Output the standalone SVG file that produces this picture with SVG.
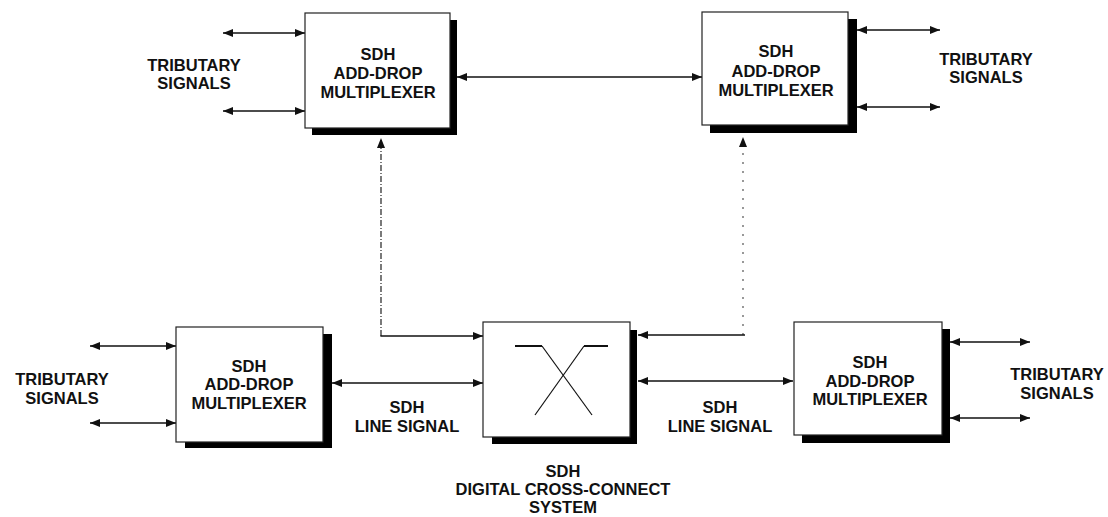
<svg xmlns="http://www.w3.org/2000/svg" width="1108" height="517" viewBox="0 0 1108 517">
<style>
  .box { fill: #ffffff; stroke: #222222; stroke-width: 1.2; }
  .shadow { fill: #000000; }
  .t { font-family: "Liberation Sans", Arial, sans-serif; font-size: 16.5px; font-weight: bold; fill: #111111; text-anchor: middle; }
  .lbl { font-family: "Liberation Sans", Arial, sans-serif; font-size: 16.5px; font-weight: bold; fill: #111111; text-anchor: middle; }
  .conn { stroke: #111111; stroke-width: 1.5; fill: none; }
  .dashA { stroke: #222222; stroke-width: 1.2; fill: none; stroke-dasharray: 6 2 1 2; }
  .dashB { stroke: #555555; stroke-width: 1.2; fill: none; stroke-dasharray: 2 7; }
  .xline { stroke: #111111; stroke-width: 1.2; fill: none; }
  .xbar { stroke: #111111; stroke-width: 2; fill: none; }
</style>
<defs>
  <marker id="ah" markerUnits="userSpaceOnUse" markerWidth="10" markerHeight="8" refX="10" refY="4" orient="auto-start-reverse">
    <path d="M0,0 L10,4 L0,8 Z" fill="#111111"/>
  </marker>
</defs>
<rect width="1108" height="517" fill="#ffffff"/>

<g id="connectors">
  <line class="conn" x1="223" y1="33" x2="305" y2="33" marker-start="url(#ah)" marker-end="url(#ah)"/>
  <line class="conn" x1="223" y1="111" x2="305" y2="111" marker-start="url(#ah)" marker-end="url(#ah)"/>
  <line class="conn" x1="457" y1="77" x2="702" y2="77" marker-start="url(#ah)" marker-end="url(#ah)"/>
  <line class="conn" x1="857" y1="30" x2="940" y2="30" marker-start="url(#ah)" marker-end="url(#ah)"/>
  <line class="conn" x1="857" y1="107" x2="940" y2="107" marker-start="url(#ah)" marker-end="url(#ah)"/>
  <line class="conn" x1="90" y1="346" x2="176" y2="346" marker-start="url(#ah)" marker-end="url(#ah)"/>
  <line class="conn" x1="90" y1="423" x2="176" y2="423" marker-start="url(#ah)" marker-end="url(#ah)"/>
  <line class="conn" x1="332" y1="383" x2="483" y2="383" marker-start="url(#ah)" marker-end="url(#ah)"/>
  <line class="conn" x1="638" y1="381" x2="793" y2="381" marker-start="url(#ah)" marker-end="url(#ah)"/>
  <line class="conn" x1="950" y1="342" x2="1030" y2="342" marker-start="url(#ah)" marker-end="url(#ah)"/>
  <line class="conn" x1="950" y1="418" x2="1030" y2="418" marker-start="url(#ah)" marker-end="url(#ah)"/>
  <line class="dashA" x1="381" y1="336" x2="381" y2="138" marker-end="url(#ah)"/>
  <line class="conn" x1="380.4" y1="336" x2="483" y2="336" stroke-width="1.2" marker-end="url(#ah)"/>
  <line class="dashB" x1="743" y1="335" x2="743" y2="137" marker-end="url(#ah)"/>
  <line class="conn" x1="745" y1="335" x2="638" y2="335" stroke-width="1.2" marker-end="url(#ah)"/>
</g>

<g id="adm-top-left">
  <rect class="shadow" x="312" y="20" width="145" height="115"/>
  <rect class="box" x="305" y="13" width="145" height="115"/>
  <text class="t" x="378" y="60">SDH</text>
  <text class="t" x="378" y="79">ADD-DROP</text>
  <text class="t" x="378" y="98">MULTIPLEXER</text>
</g>
<g id="trib-top-left">
  <text class="lbl" x="194" y="71">TRIBUTARY</text>
  <text class="lbl" x="194" y="89">SIGNALS</text>
</g>

<g id="adm-top-right">
  <rect class="shadow" x="710" y="19" width="147" height="114"/>
  <rect class="box" x="702" y="12" width="146" height="113"/>
  <text class="t" x="776" y="57">SDH</text>
  <text class="t" x="776" y="77">ADD-DROP</text>
  <text class="t" x="776" y="96">MULTIPLEXER</text>
</g>
<g id="trib-top-right">
  <text class="lbl" x="986" y="65">TRIBUTARY</text>
  <text class="lbl" x="986" y="83">SIGNALS</text>
</g>

<g id="adm-bottom-left">
  <rect class="shadow" x="185" y="334" width="147" height="114"/>
  <rect class="box" x="176" y="327" width="147" height="115"/>
  <text class="t" x="249" y="372">SDH</text>
  <text class="t" x="249" y="390">ADD-DROP</text>
  <text class="t" x="249" y="409">MULTIPLEXER</text>
</g>
<g id="trib-bottom-left">
  <text class="lbl" x="62" y="385">TRIBUTARY</text>
  <text class="lbl" x="62" y="404">SIGNALS</text>
</g>

<g id="dcs">
  <rect class="shadow" x="492" y="330" width="145" height="114"/>
  <rect class="box" x="483" y="322" width="147" height="115"/>
  <line class="xbar" x1="515" y1="346" x2="542" y2="346"/>
  <line class="xline" x1="542" y1="346" x2="592" y2="415"/>
  <line class="xbar" x1="584" y1="346" x2="608" y2="346"/>
  <line class="xline" x1="584" y1="346" x2="535" y2="415"/>
</g>
<g id="dcs-label">
  <text class="lbl" x="563" y="477">SDH</text>
  <text class="lbl" x="563" y="495">DIGITAL CROSS-CONNECT</text>
  <text class="lbl" x="563" y="513">SYSTEM</text>
</g>

<g id="line-signal-left">
  <text class="lbl" x="407" y="413">SDH</text>
  <text class="lbl" x="407" y="432">LINE SIGNAL</text>
</g>
<g id="line-signal-right">
  <text class="lbl" x="720" y="413">SDH</text>
  <text class="lbl" x="720" y="432">LINE SIGNAL</text>
</g>

<g id="adm-bottom-right">
  <rect class="shadow" x="802" y="329" width="148" height="114"/>
  <rect class="box" x="794" y="322" width="148" height="113"/>
  <text class="t" x="870" y="368">SDH</text>
  <text class="t" x="870" y="387">ADD-DROP</text>
  <text class="t" x="870" y="405">MULTIPLEXER</text>
</g>
<g id="trib-bottom-right">
  <text class="lbl" x="1057" y="380">TRIBUTARY</text>
  <text class="lbl" x="1057" y="399">SIGNALS</text>
</g>
</svg>
